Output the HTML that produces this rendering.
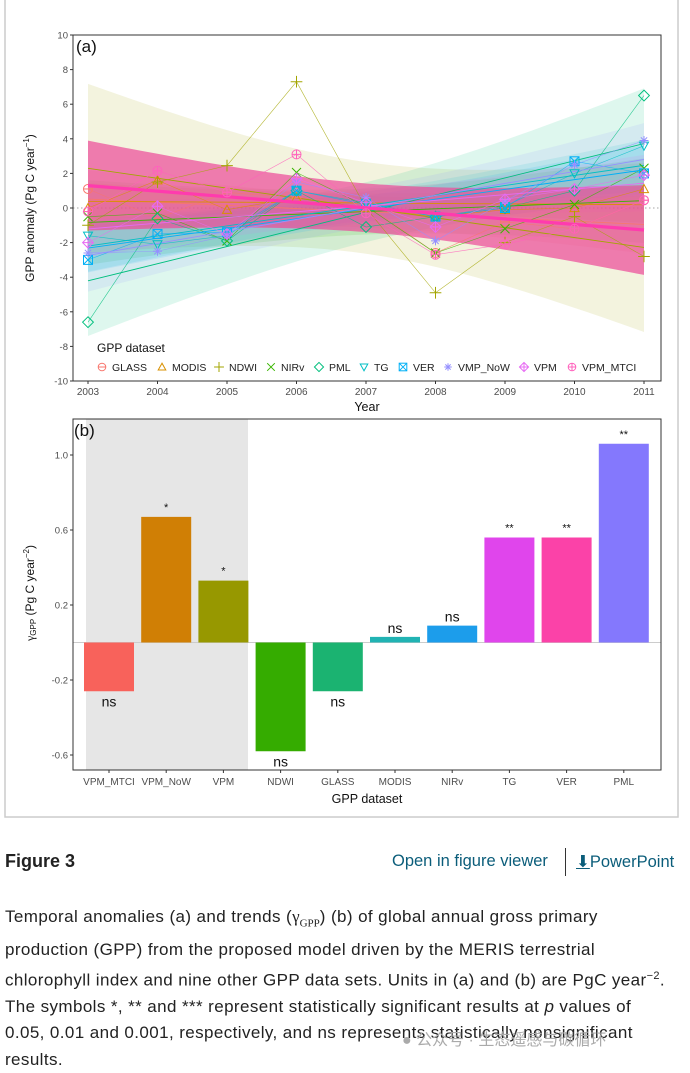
<!DOCTYPE html>
<html><head><meta charset="utf-8">
<style>
body{margin:0;background:#fff;width:690px;height:1065px;overflow:hidden;position:relative;font-family:"Liberation Sans",sans-serif}
#fig{position:absolute;left:0;top:0}
.cap{position:absolute;left:5px;top:904px;font-size:17px;letter-spacing:0.4px;line-height:26.3px;color:#222;white-space:nowrap}
</style></head><body>
<svg id="fig" width="690" height="830" font-family="Liberation Sans, sans-serif">
<rect x="5" y="-2" width="673" height="819" fill="none" stroke="#ccc" stroke-width="1.5"/>
<g id="pa"></g>
<g id="pb"></g>
</svg>
<div style="position:absolute;left:5px;top:851px;font-size:18px;font-weight:bold;color:#222">Figure 3</div>
<div style="position:absolute;left:392px;top:852px;font-size:16.5px;color:#0b5d7a">Open in figure viewer</div>
<div style="position:absolute;left:565px;top:848px;width:1px;height:28px;background:#333"></div>
<div style="position:absolute;left:576px;top:852px;font-size:16.5px;color:#0b5d7a"><span style="text-decoration:underline">⬇</span>PowerPoint</div>
<div class="cap">Temporal anomalies (a) and trends (<span style="font-family:'Liberation Serif',serif;letter-spacing:0">γ<sub style="font-size:11px">GPP</sub></span>) (b) of global annual gross primary<br>production (GPP) from the proposed model driven by the MERIS terrestrial<br>chlorophyll index and nine other GPP data sets. Units in (a) and (b) are PgC year<sup style="font-size:11px">−2</sup>.<br>The symbols *, ** and *** represent statistically significant results at <i>p</i> values of<br>0.05, 0.01 and 0.001, respectively, and ns represents statistically nonsignificant<br>results.</div>
<div style="position:absolute;left:402px;top:1026px;font-size:16px;color:#aaa;font-family:'Liberation Sans','Noto Sans CJK SC',sans-serif">● 公众号 · 生态遥感与碳循环</div>
<script>
// ---- Panel A data ----
const years=[2003,2004,2005,2006,2007,2008,2009,2010,2011];
const aNames=["GLASS","MODIS","NDWI","NIRv","PML","TG","VER","VMP_NoW","VPM","VPM_MTCI"];
const aColors=["#F8766D","#D89000","#A3A500","#39B600","#00BF7D","#00BFC4","#00B0F6","#9590FF","#E76BF3","#FF62BC"];
const sGLASS=[1.1,-0.6,0.9,0.6,0.2,-2.6,-0.8,-1.2,0.45];
const sMODIS=[0,1.6,-0.1,0.6,0,-0.5,-0.1,0,1.1];
const sNDWI=[-1.0,1.5,2.45,7.3,0,-4.9,-2.0,-0.5,-2.8];
const sNIRv=[-0.5,-0.3,-1.9,2.05,0.1,-2.6,-1.2,0.2,2.3];
const sPML=[-6.6,-0.6,-1.9,1.0,-1.1,-0.5,0,1.0,6.5];
const sTG=[-1.6,-2.1,-1.6,1.0,0.3,-0.5,0.1,2.0,3.6];
const sVER=[-3.0,-1.5,-1.4,1.0,0.2,-0.5,0,2.7,2.0];
const sVMPNoW=[-2.6,-2.5,-1.6,1.5,0.6,-1.9,0.4,2.5,3.9];
const sVPM=[-2.0,0.1,-1.5,1.7,0.3,-1.1,0.5,1.1,1.9];
const sVPMMTCI=[-0.2,2.15,0.9,3.1,-0.3,-2.7,-2.1,-1.2,0.45];
const aSeries=[sGLASS,sMODIS,sNDWI,sNIRv,sPML,sTG,sVER,sVMPNoW,sVPM,sVPMMTCI];
const aYTicks=[10,8,6,4,2,0,-2,-4,-6,-8,-10];
// ---- Panel B data ----
const bCats=["VPM_MTCI","VPM_NoW","VPM","NDWI","GLASS","MODIS","NIRv","TG","VER","PML"];
const bVals=[-0.26,0.67,0.33,-0.58,-0.26,0.03,0.09,0.56,0.56,1.06];
const bSig=["ns","*","*","ns","ns","ns","ns","**","**","**"];
const bColors=["#F8625B","#D07F05","#979800","#35AC00","#1BB371","#21B3B3","#1C9DEB","#E045EC","#FB42A8","#8478FD"];
const bYTicks=[1.0,0.6,0.2,-0.2,-0.6];

const NS="http://www.w3.org/2000/svg";
function mk(p,t,a){const e=document.createElementNS(NS,t);for(const k in a)e.setAttribute(k,a[k]);p.appendChild(e);return e;}
function txt(p,x,y,s,a){const e=mk(p,"text",Object.assign({x:x,y:y},a||{}));e.textContent=s;return e;}

// ===== Panel A =====
const pa=document.getElementById("pa");
const AL=73,AR=661,AT=35,AB=381;
const ax=yr=>88+(yr-2003)*69.5;
const ay=v=>208-v*17.3;
let r=mk(pa,"rect",{x:AL,y:AT,width:AR-AL,height:AB-AT,fill:"#fff"});


aYTicks.forEach(t=>{
  const l=mk(pa,"line",{x1:AL-3,x2:AL,y1:ay(t),y2:ay(t),stroke:"#333"});
  
  
  const e=txt(pa,AL-5,ay(t)+3.5,String(t),{"text-anchor":"end","font-size":"9.5",fill:"#4d4d4d"});
  
  
});
years.forEach(yr=>{
  const l=mk(pa,"line",{x1:ax(yr),x2:ax(yr),y1:AB,y2:AB+3,stroke:"#333"});
  
  
  const e=txt(pa,ax(yr),AB+14,String(yr),{"text-anchor":"middle","font-size":"10",fill:"#4d4d4d"});
  
  
});
let zl=mk(pa,"line",{x1:AL,x2:AR,y1:ay(0),y2:ay(0),stroke:"#888","stroke-dasharray":"1.5,2.5","stroke-width":"0.8"});



function fit(ys){
  const n=ys.length,xs=years.map(y=>y-2007);
  const mx=xs.reduce((a,b)=>a+b)/n,my=ys.reduce((a,b)=>a+b)/n;
  let sxx=0,sxy=0;xs.forEach((x,i)=>{sxx+=(x-mx)**2;sxy+=(x-mx)*(ys[i]-my);});
  const b=sxy/sxx,a=my-b*mx;
  let sse=0;xs.forEach((x,i)=>{sse+=(ys[i]-a-b*x)**2;});
  const s=Math.sqrt(sse/(n-2));
  return {a,b,s,mx,sxx,n};
}
const bandG=mk(pa,"g",{}),lineG=mk(pa,"g",{}),ptG=mk(pa,"g",{});
aSeries.forEach((ys,i)=>{
  const f=fit(ys),col=aColors[i],last=i===aSeries.length-1;
  let up=[],lo=[];
  for(let k=0;k<=40;k++){
    const yr=2003+8*k/40,x=yr-2007;
    const yh=f.a+f.b*x,se=f.s*Math.sqrt(1/f.n+(x-f.mx)**2/f.sxx)*2.365;
    up.push(ax(yr)+","+ay(yh+se));lo.unshift(ax(yr)+","+ay(yh-se));
  }
  const band=mk(bandG,"polygon",{points:up.concat(lo).join(" "),fill:last?"#EC4C9A":col,"fill-opacity":last?0.72:0.13});
  
  
  const tl=mk(last?ptG:lineG,"line",{x1:ax(2003),x2:ax(2011),y1:ay(f.a+f.b*-4),y2:ay(f.a+f.b*4),stroke:last?"#FF3BAE":col,"stroke-width":last?3.2:0.9});
  
  
  const pl=mk(lineG,"polyline",{points:ys.map((v,k)=>ax(years[k])+","+ay(v)).join(" "),fill:"none",stroke:col,"stroke-width":0.6,"stroke-opacity":0.8});
  
  
  ys.forEach((v,k)=>{const m=marker(ptG,i,ax(years[k]),ay(v),4.5);
    
    });
});
function marker(p,i,x,y,s){
  const c=aColors[i],g=mk(p,"g",{fill:"none",stroke:c,"stroke-width":1});
  if(i===0){mk(g,"circle",{cx:x,cy:y,r:s});mk(g,"line",{x1:x-s,x2:x+s,y1:y,y2:y});}
  else if(i===1){mk(g,"polygon",{points:`${x},${y-s} ${x-s},${y+s*0.8} ${x+s},${y+s*0.8}`});}
  else if(i===2){mk(g,"path",{d:`M${x-s*1.3},${y}H${x+s*1.3}M${x},${y-s*1.3}V${y+s*1.3}`});}
  else if(i===3){mk(g,"path",{d:`M${x-s},${y-s}L${x+s},${y+s}M${x-s},${y+s}L${x+s},${y-s}`});}
  else if(i===4){mk(g,"polygon",{points:`${x},${y-s*1.2} ${x+s*1.2},${y} ${x},${y+s*1.2} ${x-s*1.2},${y}`});}
  else if(i===5){mk(g,"polygon",{points:`${x},${y+s} ${x-s},${y-s*0.8} ${x+s},${y-s*0.8}`});}
  else if(i===6){mk(g,"rect",{x:x-s,y:y-s,width:2*s,height:2*s});mk(g,"path",{d:`M${x-s},${y-s}L${x+s},${y+s}M${x-s},${y+s}L${x+s},${y-s}`});}
  else if(i===7){mk(g,"path",{d:`M${x-s},${y}H${x+s}M${x},${y-s}V${y+s}M${x-s*0.7},${y-s*0.7}L${x+s*0.7},${y+s*0.7}M${x-s*0.7},${y+s*0.7}L${x+s*0.7},${y-s*0.7}`});}
  else if(i===8){mk(g,"polygon",{points:`${x},${y-s*1.2} ${x+s*1.2},${y} ${x},${y+s*1.2} ${x-s*1.2},${y}`});mk(g,"path",{d:`M${x-s*1.2},${y}H${x+s*1.2}M${x},${y-s*1.2}V${y+s*1.2}`});}
  else {mk(g,"circle",{cx:x,cy:y,r:s});mk(g,"path",{d:`M${x-s},${y}H${x+s}M${x},${y-s}V${y+s}`});}
  return g;
}
let bo=mk(pa,"rect",{x:AL,y:AT,width:AR-AL,height:AB-AT,fill:"none",stroke:"#333","stroke-width":1});


let lab=txt(pa,76,52,"(a)",{"font-size":"17",fill:"#111"});


let xt=txt(pa,367,411,"Year",{"text-anchor":"middle","font-size":"12.5",fill:"#111"});


let yt=mk(pa,"text",{x:0,y:0,transform:"translate(34,208) rotate(-90)","text-anchor":"middle","font-size":"12",fill:"#111"});
yt.innerHTML='GPP anomaly (Pg C year<tspan dy="-5" font-size="8">−1</tspan><tspan dy="5">)</tspan>';


let lt=txt(pa,97,352,"GPP dataset",{"font-size":"12",fill:"#111"});


const legSym=[102,162,219,271,319,364,403,448,524,572];
aNames.forEach((n,i)=>{
  const g=mk(pa,"g",{});
  
  
  marker(g,i,legSym[i],367,3.8);
  txt(g,legSym[i]+10,371,n,{"font-size":"10.5",fill:"#222"});
});

// ===== Panel B =====
const pb=document.getElementById("pb");
const BL=73,BR=661,BT=419,BB=770;
const by=v=>642.5-v*187.5;
const bx=i=>109+i*57.2;
let sh=mk(pb,"rect",{x:86,y:BT,width:162,height:BB-BT,fill:"#e6e6e6"});


bYTicks.forEach(t=>{
  const l=mk(pb,"line",{x1:BL-3,x2:BL,y1:by(t),y2:by(t),stroke:"#333"});
  
  
  const e=txt(pb,BL-5,by(t)+3.5,t.toFixed(1),{"text-anchor":"end","font-size":"9.5",fill:"#4d4d4d"});
  
  
});
let z2=mk(pb,"line",{x1:BL,x2:BR,y1:by(0),y2:by(0),stroke:"#ccc","stroke-width":1});


bCats.forEach((c,i)=>{
  const v=bVals[i],y0=by(Math.max(v,0)),h=Math.abs(by(v)-by(0));
  const b=mk(pb,"rect",{x:bx(i)-25,y:y0,width:50,height:h,fill:bColors[i]});
  
  
  const s=bSig[i],ns=s==="ns";
  const ly=v>=0?by(v)-(ns?4:6):by(v)+(ns?15:14);
  const e=txt(pb,bx(i),ly,s,{"text-anchor":"middle","font-size":ns?"14":"11",fill:"#111"});
  
  
  const l=mk(pb,"line",{x1:bx(i),x2:bx(i),y1:BB,y2:BB+3,stroke:"#333"});
  
  
  const xl=txt(pb,bx(i),BB+15,c,{"text-anchor":"middle","font-size":"10",fill:"#4d4d4d"});
  
  
});
let bo2=mk(pb,"rect",{x:BL,y:BT,width:BR-BL,height:BB-BT,fill:"none",stroke:"#333","stroke-width":1});


let lb=txt(pb,74,436,"(b)",{"font-size":"17",fill:"#111"});


let xt2=txt(pb,367,803,"GPP dataset",{"text-anchor":"middle","font-size":"12.5",fill:"#111"});


let yt2=mk(pb,"text",{x:0,y:0,transform:"translate(34,593) rotate(-90)","text-anchor":"middle","font-size":"12",fill:"#111"});
yt2.innerHTML='<tspan font-family="Liberation Serif, serif">γ</tspan><tspan font-size="8" dy="2">GPP</tspan><tspan dy="-2"> (Pg C year</tspan><tspan dy="-5" font-size="8">−2</tspan><tspan dy="5">)</tspan>';


</script>
</body></html>
